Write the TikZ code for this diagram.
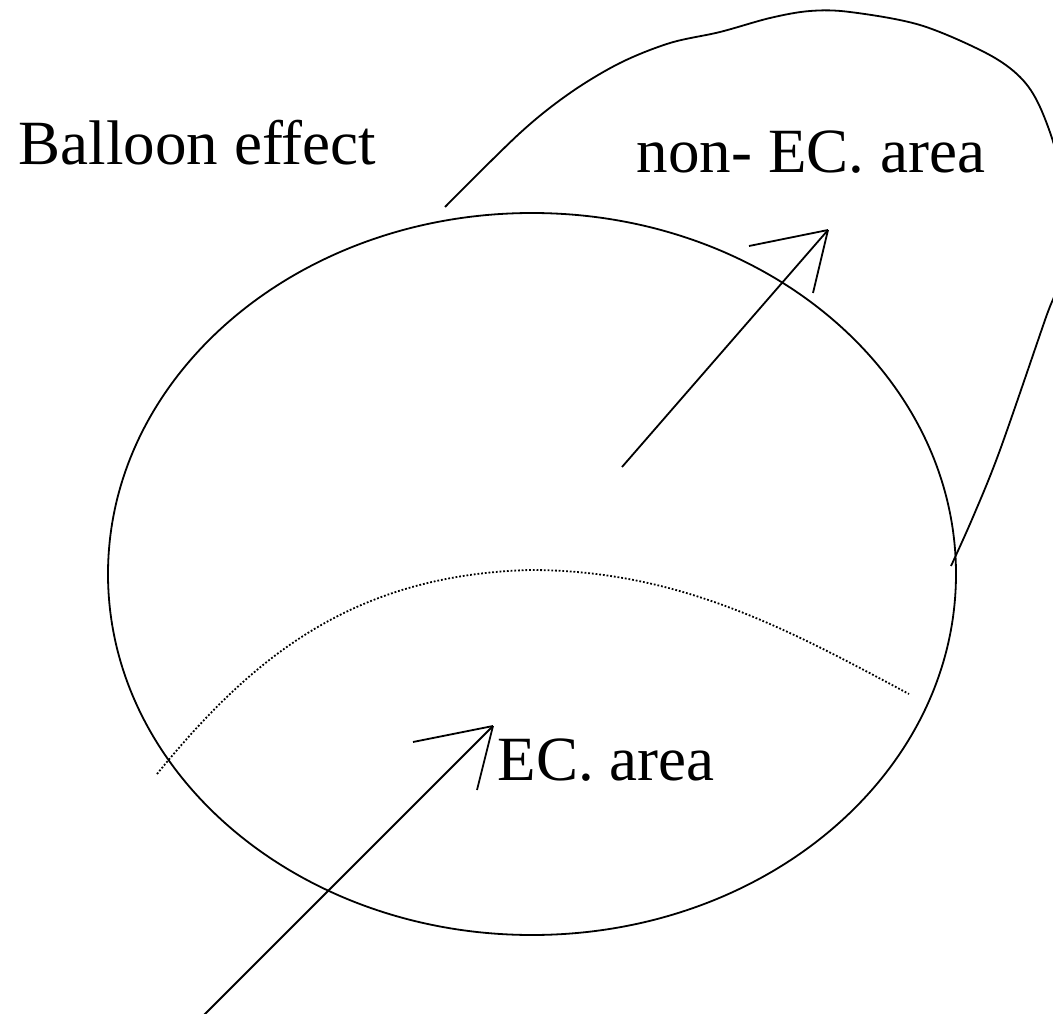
\documentclass[tikz,border=0pt]{standalone}
\usepackage{fontspec}
\setmainfont{Liberation Serif}
\usetikzlibrary{shapes.geometric}
\begin{document}
\begin{tikzpicture}[
  x=1pt,
  y=-1pt,
  line width=1.8pt,
  area text/.style={anchor=base west, inner sep=0pt, font=\fontsize{63}{74}\selectfont},
  dot line/.style={line width=1.8pt, dash pattern=on 1.8pt off 1.9pt}
]
\useasboundingbox (0,0) rectangle (1053,1014);

% the EC. zone
\node[draw, ellipse, inner sep=0pt, minimum width=848pt, minimum height=722pt] (ecZone) at (532,574) {};

% balloon pushed out to the upper right
\draw plot[smooth, tension=0.55] coordinates {
  (445,207) (520,133) (570,93) (620,63) (670,43) (720,32) (770,18)
  (810,11) (850,12) (920,25) (986,53) (1020,77) (1040,107) (1058,160)
  (1064,220) (1058,283) (1045,320) (1000,450) (973,517) (951,566)};

% boundary inside the zone
\coordinate (lineL) at (157,774);
\coordinate (lineTop) at (530,570);
\coordinate (lineR) at (909,694);
\draw[dot line] (lineL) .. controls (250,660) and (350,575) .. (lineTop)
  .. controls (680,570) and (789,630) .. (lineR);

% labels
\node[area text] (balloonLbl) at (18,165) {Balloon effect};
\node[area text] (nonEcLbl) at (636,173) {non- EC. area};
\node[area text] (ecLbl) at (497,780) {EC. area};

% arrow 1: into the EC. area
\coordinate (ecTail) at (203,1016);
\coordinate (ecTip) at (493,726);
\draw (ecTail) -- (ecTip);
\draw (ecTip) -- ++(-80,16);
\draw (ecTip) -- ++(-16,64);

% arrow 2: out to the non- EC. area
\coordinate (nonTail) at (622,467);
\coordinate (nonTip) at (828,230);
\draw (nonTail) -- (nonTip);
\draw (nonTip) -- ++(-79,16);
\draw (nonTip) -- ++(-15,63);
\end{tikzpicture}
\end{document}
